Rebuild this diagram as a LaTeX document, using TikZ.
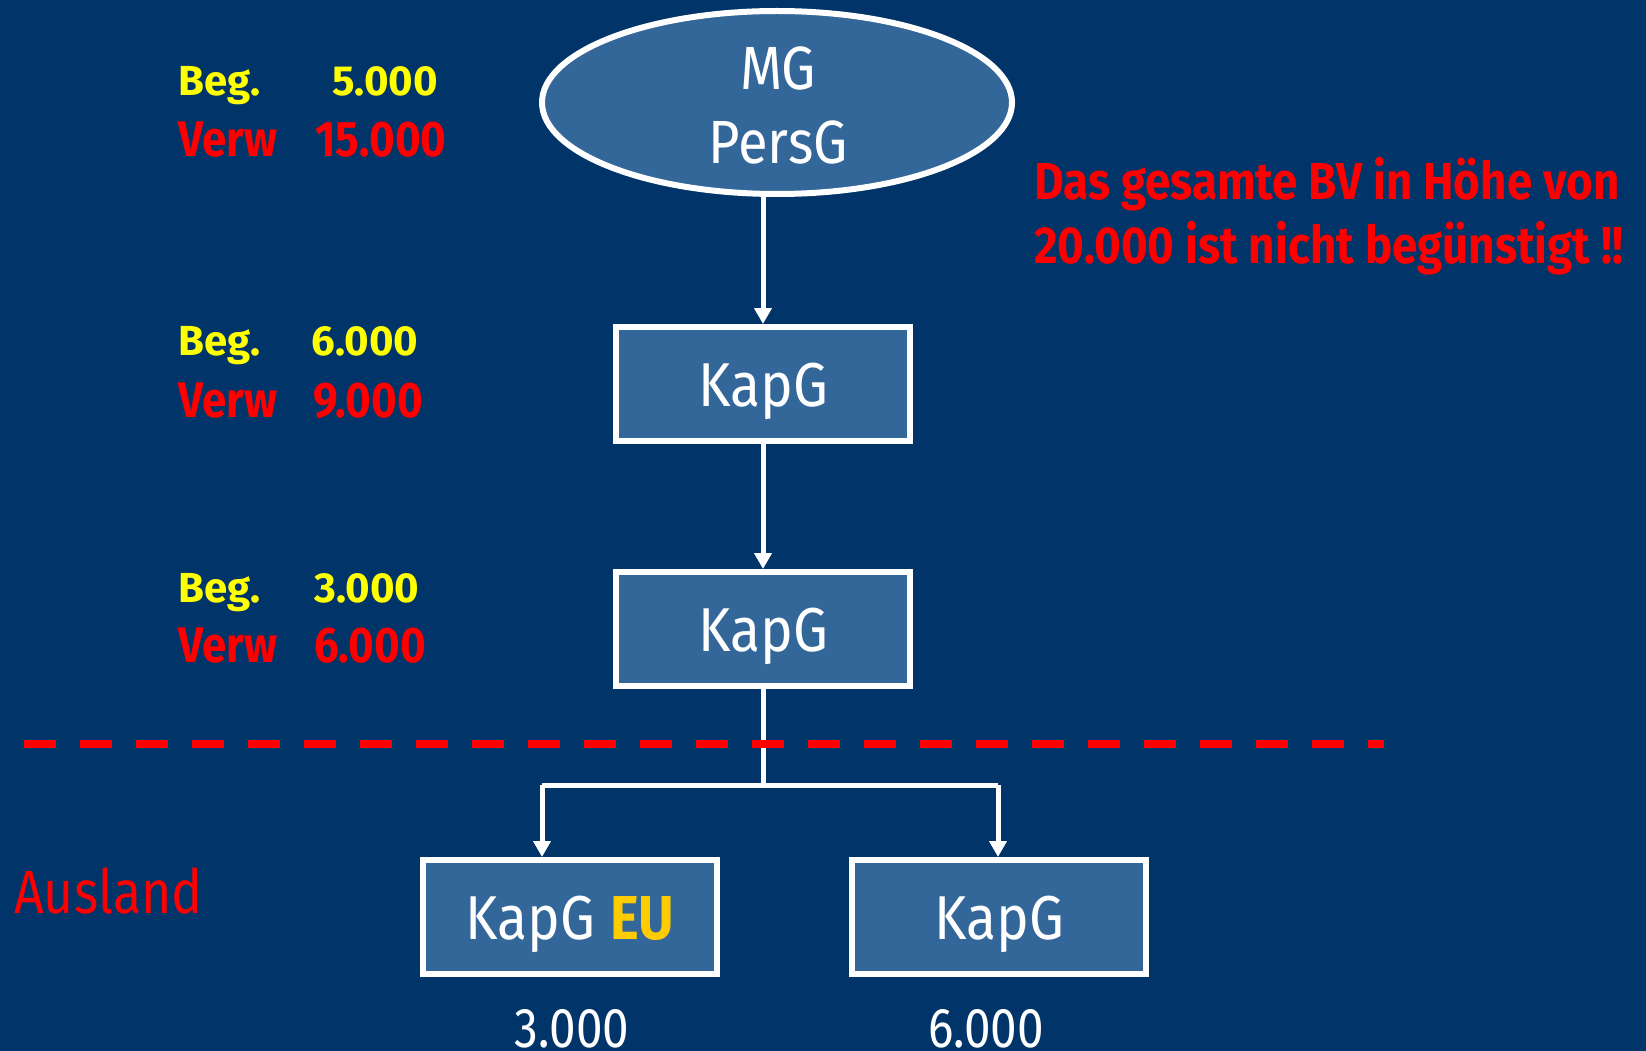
\documentclass[tikz,border=0pt]{standalone}
\usepackage{fontspec}
\setmainfont{Fira Sans}[FakeStretch=0.89]
\newfontfamily\regn{Fira Sans}[FakeStretch=0.85]
\newfontfamily\boldc{Fira Sans}[FakeStretch=0.88,UprightFont=* Bold]
\newfontfamily\boldw{Fira Sans}[UprightFont=* Bold]
\usetikzlibrary{arrows.meta,shapes.geometric}
\definecolor{bg}{RGB}{1,52,104}
\definecolor{boxfill}{RGB}{52,103,153}
\definecolor{ylw}{RGB}{255,255,0}
\definecolor{eugold}{RGB}{255,204,0}
\definecolor{rd}{RGB}{255,0,0}
\tikzset{
  ent/.style={draw=white, line width=6pt, fill=boxfill, minimum width=294pt, minimum height=114pt, inner sep=0pt, text depth=0pt, text=white, font=\fontsize{62}{62}\selectfont},
  oval/.style={ellipse, draw=white, line width=6pt, fill=boxfill, minimum width=470pt, minimum height=183pt, inner sep=0pt},
  ovaltext/.style={text=white, font=\fontsize{61}{61}\selectfont, inner sep=0pt, anchor=base},
  conn/.style={draw=white, line width=5pt},
  arr/.style={conn, -{Triangle[width=17pt,length=16pt]}},
  begl/.style={text=ylw, font=\boldw\fontsize{42}{42}\selectfont, inner sep=0pt},
  verwl/.style={text=rd, font=\boldc\fontsize{50}{50}\selectfont, inner sep=0pt},
  note/.style={text=rd, font=\boldc\fontsize{52}{52}\selectfont, inner sep=0pt, anchor=base west},
  amt/.style={text=white, font=\regn\fontsize{56}{56}\selectfont, inner sep=0pt, anchor=base},
}
\begin{document}
\begin{tikzpicture}[x=1pt,y=-1pt]
\fill[bg] (0,0) rectangle (1646,1051);
\useasboundingbox (0,0) rectangle (1646,1051);

\node[oval] (mg) at (777,102.5) {};
\node[ovaltext] (mgt) at (778,90) {MG};
\node[ovaltext] (pgt) at (778,164) {PersG};
\node[ent] (k1) at (763,384) {\raisebox{-2pt}{KapG}};
\node[ent] (k2) at (763,629) {\raisebox{-2pt}{KapG}};
\node[ent] (eu) at (570,917) {\raisebox{-2pt}{KapG \textcolor{eugold}{\boldc EU}}};
\node[ent] (kr) at (999,917) {\raisebox{-2pt}{KapG}};

% left labels
\node[begl, anchor=base west] (b1) at (178,96) {Beg.};
\node[begl, anchor=base] (b1v) at (385,96) {5.000};
\node[verwl, anchor=base west] (v1) at (178,157) {Verw};
\node[verwl, anchor=base] (v1v) at (381,157) {15.000};

\node[begl, anchor=base west] (b2) at (178,355) {Beg.};
\node[begl, anchor=base] (b2v) at (365,355) {6.000};
\node[verwl, anchor=base west] (v2) at (178,417) {Verw};
\node[verwl, anchor=base] (v2v) at (368,417) {9.000};

\node[begl, anchor=base west] (b3) at (178,602) {Beg.};
\node[begl, anchor=base] (b3v) at (367,602) {3.000};
\node[verwl, anchor=base west] (v3) at (178,662) {Verw};
\node[verwl, anchor=base] (v3v) at (370,662) {6.000};

\node[note] (n1) at (1034,200) {Das gesamte BV in Höhe von};
\node[note] (n2) at (1034,263) {20.000 ist nicht begünstigt !!};

\node[text=rd, font=\regn\fontsize{61}{61}\selectfont, inner sep=0pt, anchor=base west] (aus) at (14,913) {Ausland};

\node[amt] (a1) at (572,1047) {3.000};
\node[amt] (a2) at (986,1047) {6.000};

% connectors
\draw[arr] (k1.north |- mg.south) -- (k1.north);
\draw[arr] (k1.south) -- (k2.north);
\coordinate (j) at (763,785);
\coordinate (jl) at (542,785);
\coordinate (jr) at (998,785);
\draw[conn] (k2.south) -- (j);
\draw[conn] (jl) -- (jr);
\draw[arr] (jl) -- (jl |- eu.north);
\draw[arr] (jr) -- (jr |- kr.north);

% border line
\coordinate (dl) at (24,744);
\coordinate (dr) at (1384,744);
\draw[rd, line width=8pt, dash pattern=on 32pt off 24pt] (dl) -- (dr);
\end{tikzpicture}
\end{document}
